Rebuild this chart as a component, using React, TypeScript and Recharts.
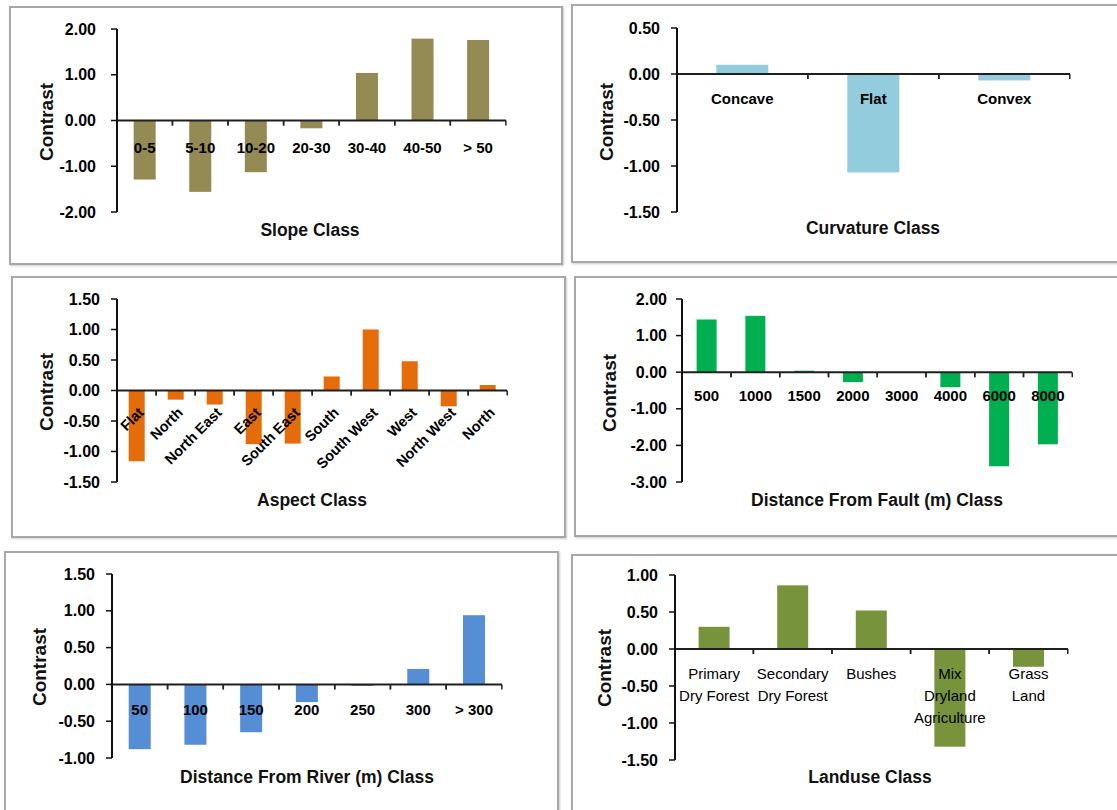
import React from 'react'
import { BarChart, Bar, XAxis, YAxis, ReferenceLine } from 'recharts'

const FONT = '"Liberation Sans", Arial, sans-serif'

// ---- data ----
const slopeClasses = ['0-5', '5-10', '10-20', '20-30', '30-40', '40-50', '> 50']
const slopeContrast = [-1.29, -1.56, -1.13, -0.17, 1.04, 1.79, 1.76]
const slopeTicks = [-2, -1, 0, 1, 2]

const curvatureClasses = ['Concave', 'Flat', 'Convex']
const curvatureContrast = [0.1, -1.07, -0.07]
const curvatureTicks = [-1.5, -1, -0.5, 0, 0.5]

const aspectClasses = ['Flat', 'North', 'North East', 'East', 'South East', 'South', 'South West', 'West', 'North West', 'North']
const aspectContrast = [-1.16, -0.15, -0.23, -0.88, -0.87, 0.23, 1.0, 0.48, -0.26, 0.09]
const aspectTicks = [-1.5, -1, -0.5, 0, 0.5, 1, 1.5]

const faultClasses = ['500', '1000', '1500', '2000', '3000', '4000', '6000', '8000']
const faultContrast = [1.44, 1.54, 0.04, -0.27, -0.01, -0.41, -2.57, -1.97]
const faultTicks = [-3, -2, -1, 0, 1, 2]

const riverClasses = ['50', '100', '150', '200', '250', '300', '> 300']
const riverContrast = [-0.88, -0.82, -0.65, -0.24, -0.02, 0.21, 0.94]
const riverTicks = [-1, -0.5, 0, 0.5, 1, 1.5]

const landuseClasses = ['Primary\nDry Forest', 'Secondary\nDry Forest', 'Bushes', 'Mix\nDryland\nAgriculture', 'Grass\nLand']
const landuseContrast = [0.3, 0.86, 0.52, -1.32, -0.24]
const landuseTicks = [-1.5, -1, -0.5, 0, 0.5, 1]

// ---- layout (page pixels) ----
type Layout = {
  box: [number, number, number, number]
  plot: [number, number, number, number]
  title: [number, number]
  yTitle: [number, number]
  tickGap: number
  labelDy: number
  mode: 'flat' | 'rotated' | 'wrap'
}

interface PanelProps {
  classes: string[]
  values: number[]
  ticks: number[]
  color: string
  title: string
  layout: Layout
}

function Panel({ classes, values, ticks, color, title, layout }: PanelProps) {
  const [bl, bt, br, bb] = layout.box
  const [pl, pt, pr, pb] = layout.plot
  const W = Math.min(br, 1117) - bl
  const H = Math.min(bb, 810) - bt
  const rows = classes.map((name, i) => ({ id: i, name, value: values[i] }))
  const band = (pr - pl) / classes.length

  const shape = (props: any) => {
    const { x, y, width, height } = props
    const i = props.payload?.id ?? props.index
    const v = values[i]
    const y0 = Math.min(y, y + height)
    const y1 = Math.max(y, y + height)
    const zero = v >= 0 ? y1 : y0
    const cx = x + width / 2
    const lines = classes[i].split('\n')
    let label
    if (layout.mode === 'rotated') {
      label = (
        <text
          transform={`translate(${cx + 8},${zero + 23}) rotate(-45)`}
          textAnchor="end"
          fontSize={14.5}
          fontWeight={700}
          fontFamily={FONT}
          fill="#000"
        >
          {lines[0]}
        </text>
      )
    } else {
      label = (
        <text
          x={cx}
          y={zero + layout.labelDy}
          textAnchor="middle"
          dominantBaseline="central"
          fontSize={15}
          fontWeight={layout.mode === 'wrap' ? 400 : 700}
          fontFamily={FONT}
          fill="#000"
        >
          {lines.map((t, k) => (
            <tspan key={k} x={cx} dy={k === 0 ? 0 : 22}>
              {t}
            </tspan>
          ))}
        </text>
      )
    }
    return (
      <g>
        <rect x={x} y={y0} width={width} height={y1 - y0} fill={color} />
        <line x1={cx - band / 2} x2={cx - band / 2} y1={zero} y2={zero + 5} stroke="#222" strokeWidth={1.5} />
        <line x1={cx + band / 2} x2={cx + band / 2} y1={zero} y2={zero + 5} stroke="#222" strokeWidth={1.5} />
        {label}
      </g>
    )
  }

  return (
    <>
      <div
        style={{
          position: 'absolute',
          left: bl - 1,
          top: bt - 1,
          width: br - bl + 2,
          height: bb - bt + 2,
          border: '2px solid #a8a8a8',
          boxSizing: 'border-box',
          boxShadow: '1px 1px 2px rgba(0,0,0,0.2)',
        }}
      />
      <div style={{ position: 'absolute', left: bl, top: bt }}>
        <BarChart
          width={W}
          height={H}
          data={rows}
          margin={{ top: pt - bt, right: bl + W - pr, bottom: bt + H - pb, left: 0 }}
          barCategoryGap="30%"
        >
          <XAxis dataKey="id" hide />
          <YAxis
            type="number"
            width={pl - bl}
            domain={[ticks[0], ticks[ticks.length - 1]]}
            ticks={ticks}
            interval={0}
            tickFormatter={(v: number) => v.toFixed(2)}
            tick={{ fill: '#000', fontSize: 16, fontWeight: 700, fontFamily: FONT }}
            axisLine={{ stroke: '#111', strokeWidth: 2 }}
            tickLine={{ stroke: '#111', strokeWidth: 1.5 }}
            tickSize={6}
            tickMargin={layout.tickGap - 6}
          />
          <Bar dataKey="value" fill={color} shape={shape} isAnimationActive={false} />
          <ReferenceLine y={0} stroke="#1f1f1f" strokeWidth={2} />
        </BarChart>
      </div>
      <div
        style={{
          position: 'absolute',
          left: layout.title[0],
          top: layout.title[1],
          transform: 'translate(-50%, -50%)',
          whiteSpace: 'nowrap',
          font: `700 17.5px ${FONT}`,
          color: '#111',
        }}
      >
        {title}
      </div>
      <div
        style={{
          position: 'absolute',
          left: layout.yTitle[0],
          top: layout.yTitle[1],
          transform: 'translate(-50%, -50%) rotate(-90deg)',
          whiteSpace: 'nowrap',
          font: `700 19px ${FONT}`,
          color: '#111',
        }}
      >
        Contrast
      </div>
    </>
  )
}

export default function App() {
  return (
    <div
      style={{
        position: 'absolute',
        left: 0,
        top: 0,
        width: 1117,
        height: 810,
        overflow: 'hidden',
        background: '#fff',
        fontFamily: FONT,
      }}
    >
      <Panel
        classes={slopeClasses}
        values={slopeContrast}
        ticks={slopeTicks}
        color="#948A54"
        title="Slope Class"
        layout={{ box: [10, 7, 562, 264], plot: [117, 29, 506, 212], title: [310, 230], yTitle: [47, 122], tickGap: 21, labelDy: 26, mode: 'flat' }}
      />
      <Panel
        classes={curvatureClasses}
        values={curvatureContrast}
        ticks={curvatureTicks}
        color="#93CDDD"
        title="Curvature Class"
        layout={{ box: [572, 5, 1125, 262], plot: [677, 28, 1070, 212], title: [873, 228], yTitle: [607, 122], tickGap: 17, labelDy: 24, mode: 'flat' }}
      />
      <Panel
        classes={aspectClasses}
        values={aspectContrast}
        ticks={aspectTicks}
        color="#E46C0A"
        title="Aspect Class"
        layout={{ box: [12, 277, 565, 537], plot: [117, 299, 507, 482], title: [312, 500], yTitle: [47, 392], tickGap: 17, labelDy: 24, mode: 'rotated' }}
      />
      <Panel
        classes={faultClasses}
        values={faultContrast}
        ticks={faultTicks}
        color="#00B050"
        title="Distance From Fault (m) Class"
        layout={{ box: [575, 277, 1125, 536], plot: [682, 299, 1072, 482], title: [877, 500], yTitle: [610, 393], tickGap: 15, labelDy: 23, mode: 'flat' }}
      />
      <Panel
        classes={riverClasses}
        values={riverContrast}
        ticks={riverTicks}
        color="#558ED5"
        title="Distance From River (m) Class"
        layout={{ box: [5, 552, 558, 820], plot: [112, 574, 502, 758], title: [307, 777], yTitle: [40, 667], tickGap: 17, labelDy: 25, mode: 'flat' }}
      />
      <Panel
        classes={landuseClasses}
        values={landuseContrast}
        ticks={landuseTicks}
        color="#77933C"
        title="Landuse Class"
        layout={{ box: [572, 555, 1125, 820], plot: [675, 575, 1068, 760], title: [870, 777], yTitle: [605, 668], tickGap: 17, labelDy: 24, mode: 'wrap' }}
      />
    </div>
  )
}
